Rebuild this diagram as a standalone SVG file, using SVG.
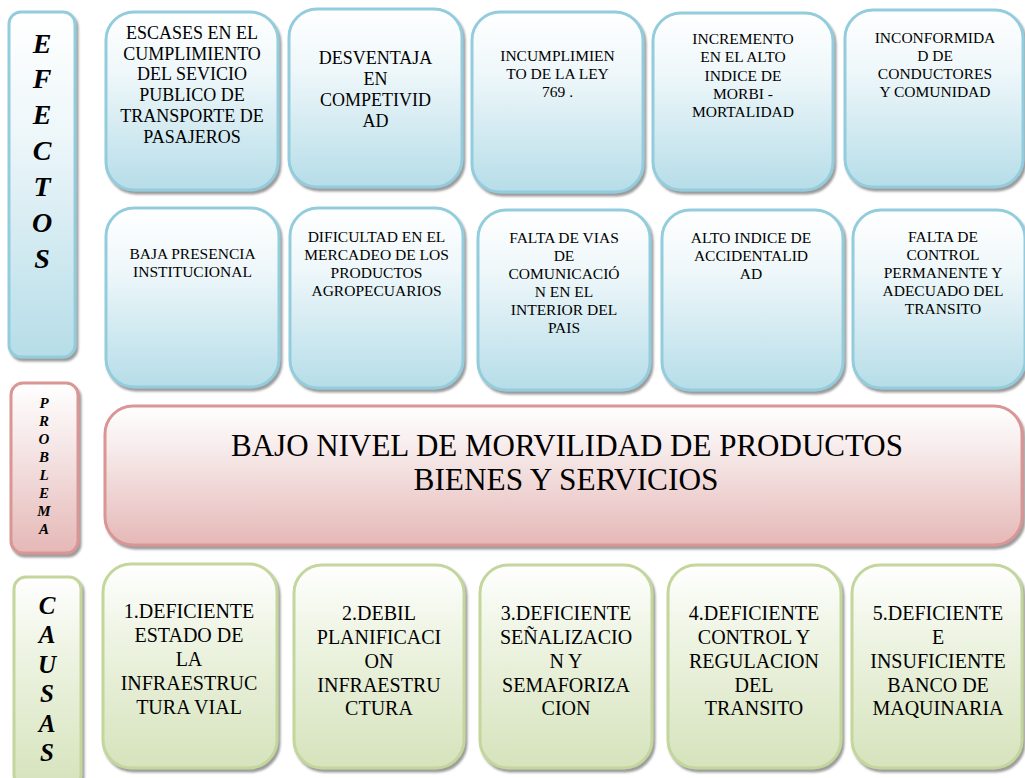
<svg xmlns="http://www.w3.org/2000/svg" width="1025" height="778" viewBox="0 0 1025 778" font-family="'Liberation Serif', 'Times New Roman', serif">
<defs>
<linearGradient id="gb" x1="0" y1="0" x2="0" y2="1">
<stop offset="0" stop-color="#ffffff"/><stop offset="0.35" stop-color="#eef7fa"/><stop offset="1" stop-color="#b6dde8"/>
</linearGradient>
<linearGradient id="gp" x1="0" y1="0" x2="0" y2="1">
<stop offset="0" stop-color="#ffffff"/><stop offset="0.35" stop-color="#f6e8e8"/><stop offset="1" stop-color="#e5b8b7"/>
</linearGradient>
<linearGradient id="gg" x1="0" y1="0" x2="0" y2="1">
<stop offset="0" stop-color="#ffffff"/><stop offset="0.35" stop-color="#eef4e3"/><stop offset="1" stop-color="#d6e3bc"/>
</linearGradient>
<filter id="sh" x="-10%" y="-10%" width="125%" height="125%">
<feDropShadow dx="2" dy="3" stdDeviation="1" flood-color="#6f6f6f" flood-opacity="0.7"/>
</filter>
</defs>
<style>
.b{fill:url(#gb);stroke:#93cddd;stroke-width:3;filter:url(#sh)}
.p{fill:url(#gp);stroke:#d99694;stroke-width:3;filter:url(#sh)}
.g{fill:url(#gg);stroke:#c3d69b;stroke-width:3;filter:url(#sh)}
text{font-family:'Liberation Serif','Times New Roman',serif;fill:#000;text-anchor:middle}
.t18{font-size:18px}
.t15{font-size:15.5px}
.t20{font-size:20px}
.big{font-size:31px}
.lab{font-weight:bold;font-style:italic;font-size:28px}
.labc{font-weight:bold;font-style:italic;font-size:25px}
.labp{font-weight:bold;font-style:italic;font-size:15px}
</style>

<g id="efectos-label">
<rect class="b" x="9" y="12" width="66" height="345" rx="12"/>
<text class="lab" x="42" y="53">E</text>
<text class="lab" x="42" y="88">F</text>
<text class="lab" x="42" y="124">E</text>
<text class="lab" x="42" y="160">C</text>
<text class="lab" x="42" y="196">T</text>
<text class="lab" x="42" y="232">O</text>
<text class="lab" x="42" y="268">S</text>
</g>

<g id="problema-label">
<rect class="p" x="11" y="383" width="67" height="170" rx="12"/>
<text class="labp" x="44" y="408">P</text>
<text class="labp" x="44" y="426">R</text>
<text class="labp" x="44" y="444">O</text>
<text class="labp" x="44" y="462">B</text>
<text class="labp" x="44" y="480">L</text>
<text class="labp" x="44" y="498">E</text>
<text class="labp" x="44" y="516">M</text>
<text class="labp" x="44" y="534">A</text>
</g>

<g id="causas-label">
<rect class="g" x="14" y="577" width="67" height="210" rx="12"/>
<text class="labc" x="47" y="614">C</text>
<text class="labc" x="47" y="643">A</text>
<text class="labc" x="47" y="673">U</text>
<text class="labc" x="47" y="702">S</text>
<text class="labc" x="47" y="732">A</text>
<text class="labc" x="47" y="761">S</text>
</g>

<g id="efecto-1">
<rect class="b" x="106" y="12" width="172" height="178" rx="28"/>
<text class="t18" x="192" y="39">ESCASES EN EL</text>
<text class="t18" x="192" y="59.7">CUMPLIMIENTO</text>
<text class="t18" x="192" y="80.4">DEL SEVICIO</text>
<text class="t18" x="192" y="101.1">PUBLICO DE</text>
<text class="t18" x="192" y="121.8">TRANSPORTE DE</text>
<text class="t18" x="192" y="142.5">PASAJEROS</text>
</g>

<g id="efecto-2">
<rect class="b" x="289" y="9" width="173" height="178" rx="28"/>
<text class="t18" x="375.5" y="64">DESVENTAJA</text>
<text class="t18" x="375.5" y="85">EN</text>
<text class="t18" x="375.5" y="106">COMPETIVID</text>
<text class="t18" x="375.5" y="127">AD</text>
</g>

<g id="efecto-3">
<rect class="b" x="472" y="12" width="171" height="180" rx="28"/>
<text class="t15" x="557.5" y="61">INCUMPLIMIEN</text>
<text class="t15" x="557.5" y="79">TO DE LA LEY</text>
<text class="t15" x="557.5" y="97">769 .</text>
</g>

<g id="efecto-4">
<rect class="b" x="653" y="13" width="180" height="177" rx="28"/>
<text class="t15" x="743" y="44">INCREMENTO</text>
<text class="t15" x="743" y="62.3">EN EL ALTO</text>
<text class="t15" x="743" y="80.6">INDICE  DE</text>
<text class="t15" x="743" y="98.9">MORBI -</text>
<text class="t15" x="743" y="117.2">MORTALIDAD</text>
</g>

<g id="efecto-5">
<rect class="b" x="845" y="10" width="178" height="177" rx="28"/>
<text class="t15" x="935" y="43">INCONFORMIDA</text>
<text class="t15" x="935" y="61">D DE</text>
<text class="t15" x="935" y="79">CONDUCTORES</text>
<text class="t15" x="935" y="97">Y COMUNIDAD</text>
</g>

<g id="efecto-6">
<rect class="b" x="106" y="208" width="173" height="179" rx="28"/>
<text class="t15" x="192.5" y="259">BAJA PRESENCIA</text>
<text class="t15" x="192.5" y="277">INSTITUCIONAL</text>
</g>

<g id="efecto-7">
<rect class="b" x="290" y="208" width="173" height="180" rx="28"/>
<text class="t15" x="376.5" y="242">DIFICULTAD EN EL</text>
<text class="t15" x="376.5" y="260">MERCADEO DE LOS</text>
<text class="t15" x="376.5" y="278">PRODUCTOS</text>
<text class="t15" x="376.5" y="296">AGROPECUARIOS</text>
</g>

<g id="efecto-8">
<rect class="b" x="478" y="210" width="172" height="180" rx="28"/>
<text class="t15" x="564" y="243">FALTA DE VIAS</text>
<text class="t15" x="564" y="261">DE</text>
<text class="t15" x="564" y="279">COMUNICACIÓ</text>
<text class="t15" x="564" y="297">N EN EL</text>
<text class="t15" x="564" y="315">INTERIOR DEL</text>
<text class="t15" x="564" y="333">PAIS</text>
</g>

<g id="efecto-9">
<rect class="b" x="662" y="210" width="181" height="180" rx="28"/>
<text class="t15" x="751" y="243">ALTO INDICE DE</text>
<text class="t15" x="751" y="261">ACCIDENTALID</text>
<text class="t15" x="751" y="279">AD</text>
</g>

<g id="efecto-10">
<rect class="b" x="853" y="210" width="172" height="178" rx="28"/>
<text class="t15" x="943" y="242">FALTA DE</text>
<text class="t15" x="943" y="260">CONTROL</text>
<text class="t15" x="943" y="278">PERMANENTE Y</text>
<text class="t15" x="943" y="296">ADECUADO DEL</text>
<text class="t15" x="943" y="314">TRANSITO</text>
</g>

<g id="problema">
<rect class="p" x="105" y="406" width="917" height="139" rx="28"/>
<text class="big" x="567" y="456" textLength="672" lengthAdjust="spacingAndGlyphs">BAJO NIVEL DE MORVILIDAD DE PRODUCTOS</text>
<text class="big" x="566" y="490" textLength="305" lengthAdjust="spacingAndGlyphs">BIENES Y SERVICIOS</text>
</g>

<g id="causa-1">
<rect class="g" x="103" y="564" width="174" height="204" rx="28"/>
<text class="t20" x="189" y="618">1.DEFICIENTE</text>
<text class="t20" x="189" y="642">ESTADO DE</text>
<text class="t20" x="189" y="666">LA</text>
<text class="t20" x="189" y="690">INFRAESTRUC</text>
<text class="t20" x="189" y="714">TURA VIAL</text>
</g>

<g id="causa-2">
<rect class="g" x="294" y="565" width="170" height="203" rx="28"/>
<text class="t20" x="379" y="620">2.DEBIL</text>
<text class="t20" x="379" y="644">PLANIFICACI</text>
<text class="t20" x="379" y="668">ON</text>
<text class="t20" x="379" y="692">INFRAESTRU</text>
<text class="t20" x="379" y="715">CTURA</text>
</g>

<g id="causa-3">
<rect class="g" x="480" y="565" width="172" height="203" rx="28"/>
<text class="t20" x="566" y="620">3.DEFICIENTE</text>
<text class="t20" x="566" y="644">SEÑALIZACIO</text>
<text class="t20" x="566" y="668">N Y</text>
<text class="t20" x="566" y="692">SEMAFORIZA</text>
<text class="t20" x="566" y="715">CION</text>
</g>

<g id="causa-4">
<rect class="g" x="668" y="565" width="173" height="203" rx="28"/>
<text class="t20" x="754" y="620">4.DEFICIENTE</text>
<text class="t20" x="754" y="644">CONTROL Y</text>
<text class="t20" x="754" y="668">REGULACION</text>
<text class="t20" x="754" y="692">DEL</text>
<text class="t20" x="754" y="715">TRANSITO</text>
</g>

<g id="causa-5">
<rect class="g" x="852" y="565" width="170" height="203" rx="28"/>
<text class="t20" x="938" y="620">5.DEFICIENTE</text>
<text class="t20" x="938" y="644">E</text>
<text class="t20" x="938" y="668">INSUFICIENTE</text>
<text class="t20" x="938" y="692">BANCO DE</text>
<text class="t20" x="938" y="715">MAQUINARIA</text>
</g>

<g id="connectors"></g>
</svg>
